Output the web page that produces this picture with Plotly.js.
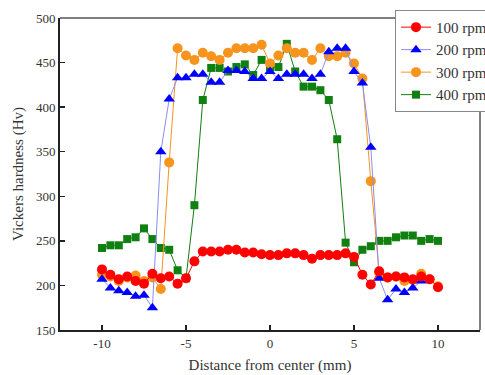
<!DOCTYPE html>
<html>
<head>
<meta charset="utf-8">
<script src="https://cdn.plot.ly/plotly-3.0.1.min.js"></script>
<style>html,body{margin:0;padding:0;background:#fff}#chart{width:485px;height:375px}</style>
</head>
<body>
<div id="chart"></div>
<script>
// Distance from center (mm)
const distance = [-10,-9.5,-9,-8.5,-8,-7.5,-7,-6.5,-6,-5.5,-5,-4.5,-4,-3.5,-3,-2.5,-2,-1.5,-1,-0.5,0,0.5,1,1.5,2,2.5,3,3.5,4,4.5,5,5.5,6,6.5,7,7.5,8,8.5,9,9.5,10];
const distance200 = [-10,-9.5,-9,-8.5,-8,-7.5,-7,-6.5,-6,-5.5,-5,-4.5,-4,-3.5,-3,-2.5,-2,-1.5,-1,-0.5,0,0.5,1,1.5,2,2.5,3,3.5,4,4.5,5,5.5,6,6.5,7,7.5,8,8.5,9];

const hv100 = [218,212,207,210,205,202,213,208,210,202,208,227,238,238,238,240,240,237,237,235,234,234,236,236,234,230,234,234,234,236,232,212,201,216,209,210,209,207,210,207,198];
const hv200 = [207,197,194,192,188,189,175,350,409,433,433,437,437,428,428,441,441,440,432,432,440,432,437,437,437,432,437,462,466,466,440,427,355,208,184,196,192,197,205];
const hv300 = [212,210,205,209,211,205,209,196,338,466,458,453,461,457,453,461,466,466,466,470,449,458,466,461,461,453,466,457,457,461,449,432,317,214,209,210,205,206,213,207,199];
const hv400 = [242,245,245,252,254,264,252,242,240,217,208,290,408,444,444,440,445,448,436,453,445,445,471,440,423,423,419,408,364,248,226,240,244,250,250,254,256,256,250,252,250];

const seriesNames = ['100 rpm','200 rpm','300 rpm','400 rpm'];

const traces = [
  {x: distance, y: hv100, name: seriesNames[0], mode: 'lines+markers',
   line: {color: '#ff0000', width: 1}, marker: {symbol: 'circle', size: 10, color: '#ff0000'}},
  {x: distance200, y: hv200, name: seriesNames[1], mode: 'lines+markers',
   line: {color: '#8c8cf0', width: 1}, marker: {symbol: 'triangle-up', size: 10, color: '#0000ff'}},
  {x: distance, y: hv300, name: seriesNames[2], mode: 'lines+markers',
   line: {color: '#f7941d', width: 1}, marker: {symbol: 'circle', size: 10, color: '#f7941d'}},
  {x: distance, y: hv400, name: seriesNames[3], mode: 'lines+markers',
   line: {color: '#108010', width: 1}, marker: {symbol: 'square', size: 8, color: '#108010'}}
];
// draw order: 400, 300, 200, 100 so red on top
const ordered = [traces[3], traces[2], traces[1], traces[0]];

const fam = '"Liberation Serif", "DejaVu Serif", serif';
const txt = '#333';

const layout = {
  width: 485, height: 375,
  margin: {l: 60, r: 5, t: 18, b: 45, autoexpand: false},
  paper_bgcolor: '#fff', plot_bgcolor: '#fff',
  font: {family: fam, color: txt, size: 13},
  showlegend: true,
  legend: {x: 0.7976, y: 1.026, xanchor: 'left', yanchor: 'top', traceorder: 'reversed',
           bgcolor: '#fff', bordercolor: '#888', borderwidth: 1,
           font: {family: fam, size: 15, color: txt}, itemwidth: 30},
  xaxis: {range: [-12.5, 12.5], tickvals: [-10,-5,0,5,10], ticktext: ['-10','-5','0','5','10'],
          ticks: 'inside', ticklen: 5, tickwidth: 1.5, tickcolor: '#222',
          tickfont: {family: fam, size: 13, color: txt},
          showline: true, linecolor: '#222', linewidth: 2, mirror: false,
          showgrid: false, zeroline: false,
          title: {text: 'Distance from center (mm)', font: {family: fam, size: 15, color: txt}, standoff: 10}},
  yaxis: {range: [150, 500], tickvals: [150,200,250,300,350,400,450,500],
          ticks: 'inside', ticklen: 5, tickwidth: 1.5, tickcolor: '#222',
          tickfont: {family: fam, size: 13, color: txt},
          showline: true, linecolor: '#222', linewidth: 2, mirror: false,
          showgrid: false, zeroline: false,
          title: {text: 'Vickers hardness (Hv)', font: {family: fam, size: 15, color: txt}, standoff: 9}},
  shapes: [
    {type: 'line', xref: 'paper', yref: 'paper', x0: 0, x1: 1, y0: 1, y1: 1, line: {color: '#555', width: 1.5}},
    {type: 'line', xref: 'paper', yref: 'paper', x0: 1, x1: 1, y0: 0, y1: 1, line: {color: '#555', width: 1.5}}
  ]
};

Plotly.newPlot('chart', ordered, layout, {displayModeBar: false, staticPlot: true});
</script>
</body>
</html>
